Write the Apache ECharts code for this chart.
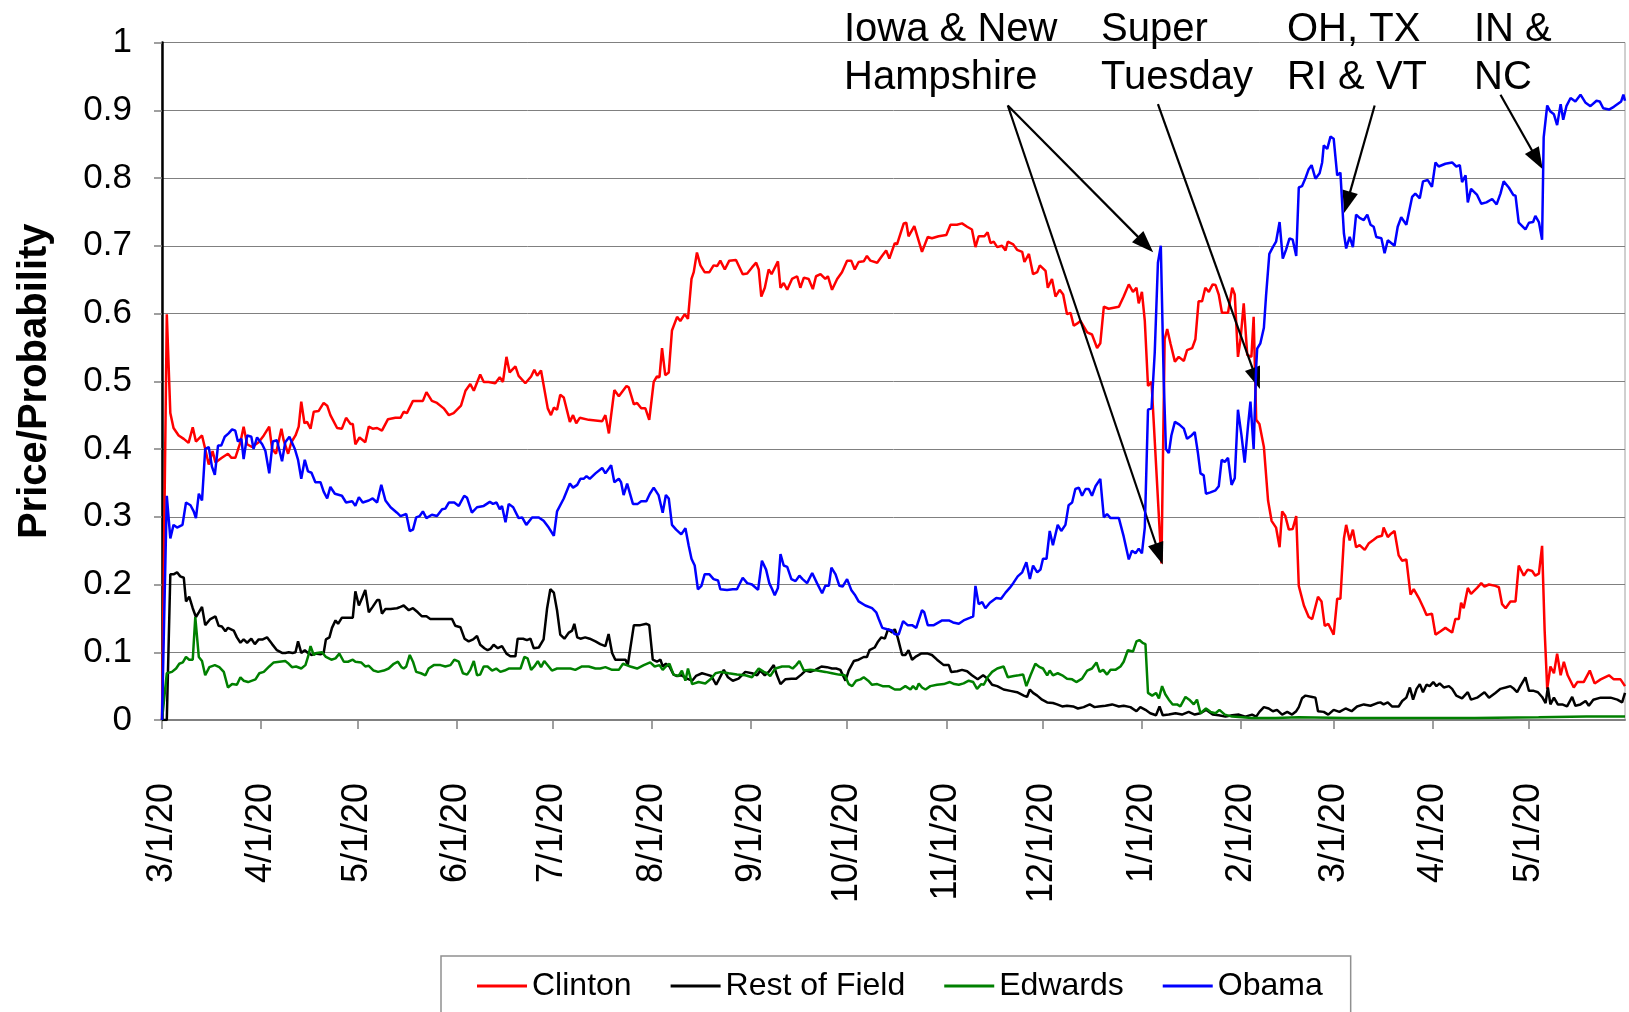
<!DOCTYPE html>
<html>
<head>
<meta charset="utf-8">
<script src="https://cdn.jsdelivr.net/npm/echarts@6/dist/echarts.min.js"></script>
<style>
html,body{margin:0;padding:0;background:#fff;}
#chart{width:1629px;height:1012px;}
</style>
</head>
<body>
<div id="chart"></div>
<script>
// ---- DATA (day offset from 3/1/2007, price) ----
const seriesNames = ['Clinton', 'Rest of Field', 'Edwards', 'Obama'];
const startDate = [2007, 2, 1];
const endDay = 457;
const xTickLabels = ['3/1/20','4/1/20','5/1/20','6/1/20','7/1/20','8/1/20','9/1/20','10/1/20','11/1/20','12/1/20','1/1/20','2/1/20','3/1/20','4/1/20','5/1/20'];

const clinton = [[0,0],[1.5,0.599],[2.6,0.453],[3.6,0.431],[5.2,0.42],[6.8,0.415],[8.3,0.409],[9.6,0.432],[10.6,0.411],[12.5,0.42],[13.5,0.40],[14.6,0.377],[15.8,0.397],[16.7,0.38],[18.7,0.387],[20.6,0.393],[21.7,0.387],[22.9,0.387],[24.5,0.41],[25.5,0.433],[26.6,0.407],[28.1,0.403],[30.2,0.41],[31.8,0.42],[33.5,0.433],[34.4,0.40],[35.6,0.393],[37.3,0.43],[38,0.413],[39.4,0.393],[40.4,0.41],[41.7,0.42],[42.7,0.433],[43.5,0.47],[44.5,0.438],[45.3,0.44],[46.4,0.43],[47.4,0.455],[48.9,0.456],[50.5,0.468],[51.6,0.464],[52.6,0.45],[54.7,0.431],[56.2,0.43],[57.5,0.446],[58.9,0.437],[59.6,0.437],[60.4,0.407],[61.7,0.417],[63.5,0.41],[64.6,0.433],[65.8,0.43],[67.2,0.431],[68.7,0.427],[70.6,0.444],[72.9,0.446],[74.5,0.446],[75.5,0.455],[76.5,0.453],[78.4,0.471],[81.5,0.471],[82.6,0.484],[84.3,0.471],[85.9,0.468],[88,0.46],[89.6,0.45],[91.1,0.453],[93.4,0.464],[94.8,0.486],[96.3,0.496],[97.4,0.486],[99.4,0.51],[100.5,0.499],[102,0.499],[104.1,0.497],[105.5,0.506],[106.5,0.499],[107.6,0.536],[108.6,0.513],[110.4,0.522],[111.4,0.508],[113.5,0.497],[115.3,0.507],[116.3,0.517],[117.2,0.508],[118.4,0.516],[120.5,0.46],[121.5,0.45],[122.4,0.461],[123.4,0.458],[124.4,0.48],[125.5,0.476],[127.4,0.44],[128.4,0.45],[129.4,0.438],[130.5,0.446],[133.3,0.443],[137.5,0.441],[138.5,0.45],[139.6,0.423],[140.3,0.45],[141.3,0.487],[142.7,0.478],[145.1,0.493],[145.8,0.491],[147.4,0.466],[148.4,0.468],[149.7,0.46],[151,0.46],[152.2,0.443],[153.6,0.499],[154.6,0.507],[155.4,0.506],[156.2,0.549],[157.2,0.509],[158.3,0.513],[159.3,0.575],[160.9,0.595],[161.9,0.589],[163.3,0.599],[164.3,0.592],[165.4,0.651],[166.1,0.661],[167.1,0.69],[168.2,0.671],[169.5,0.661],[171,0.661],[172.3,0.671],[173.4,0.67],[174.4,0.678],[175.8,0.665],[177.2,0.678],[179.3,0.679],[181.4,0.658],[182.8,0.659],[184.3,0.668],[185.6,0.675],[186.4,0.665],[187.2,0.625],[188.3,0.638],[189.5,0.665],[190.4,0.658],[192.4,0.677],[193.2,0.638],[194.2,0.645],[195.3,0.635],[196.8,0.651],[198.4,0.655],[199.4,0.638],[200.5,0.653],[202,0.651],[203.3,0.636],[204.3,0.655],[205.7,0.658],[207.2,0.651],[208,0.655],[209.3,0.635],[210.9,0.651],[212.4,0.661],[214,0.678],[215.3,0.678],[216.4,0.665],[217.6,0.676],[219.2,0.677],[220.2,0.685],[221.3,0.678],[223.4,0.675],[224.9,0.685],[226.2,0.693],[227.2,0.681],[228.9,0.704],[229.6,0.702],[231.7,0.733],[232.5,0.734],[233.2,0.714],[235,0.729],[237.4,0.691],[239.2,0.713],[240.5,0.711],[242.6,0.714],[245,0.716],[246.3,0.731],[248.3,0.731],[249.9,0.733],[251.5,0.728],[253,0.724],[254.1,0.698],[255.1,0.714],[256.9,0.714],[257.9,0.72],[258.8,0.704],[259.8,0.706],[260.9,0.698],[262.4,0.7],[263.5,0.693],[264.2,0.706],[265.9,0.702],[267.1,0.694],[268.7,0.691],[269.4,0.676],[270.8,0.688],[272.1,0.658],[273.4,0.661],[274.2,0.671],[276,0.663],[276.7,0.638],[278,0.651],[279.1,0.625],[280.4,0.635],[281.5,0.628],[282.7,0.599],[283.8,0.601],[284.8,0.582],[285.8,0.585],[286.9,0.589],[289,0.572],[290.5,0.569],[292.1,0.549],[293.1,0.556],[294.2,0.61],[295.7,0.607],[298.9,0.61],[300.4,0.625],[302,0.643],[303.3,0.632],[304.4,0.638],[305.1,0.615],[306.1,0.632],[307,0.589],[308,0.493],[309.1,0.499],[312.2,0.231],[313.2,0.562],[314,0.577],[315,0.556],[316.4,0.529],[317.6,0.536],[319.2,0.53],[320.2,0.546],[321.8,0.549],[322.8,0.562],[323.8,0.618],[324.9,0.618],[325.9,0.638],[327,0.632],[328.2,0.643],[329.1,0.642],[330.1,0.628],[331.1,0.601],[333,0.601],[334.3,0.638],[335.1,0.628],[336.1,0.536],[336.9,0.562],[337.9,0.615],[339,0.539],[340.3,0.536],[341,0.595],[341.8,0.443],[342.8,0.437],[344.2,0.403],[345.5,0.324],[346.6,0.294],[348,0.284],[349.1,0.255],[349.9,0.308],[350.9,0.301],[352,0.281],[353.2,0.282],[354.3,0.301],[355.1,0.198],[356.7,0.169],[358.2,0.152],[359.3,0.149],[361.1,0.182],[362.2,0.175],[363.2,0.139],[364.3,0.142],[366,0.126],[367.1,0.179],[368.1,0.179],[369.2,0.268],[369.9,0.288],[371,0.265],[372,0.281],[373,0.255],[374.1,0.258],[375.7,0.251],[377,0.261],[378.5,0.266],[379.6,0.27],[381.1,0.272],[381.6,0.284],[382.9,0.27],[383.9,0.275],[385,0.279],[386.3,0.243],[387.4,0.235],[388.7,0.237],[390,0.185],[391,0.193],[392.6,0.18],[394.1,0.165],[395,0.155],[396.7,0.157],[397.8,0.126],[399.4,0.131],[400.9,0.136],[403,0.129],[404,0.149],[405.1,0.149],[405.8,0.173],[406.6,0.165],[407.9,0.195],[408.9,0.186],[410.8,0.195],[412.1,0.202],[413.1,0.197],[414.5,0.2],[416.5,0.198],[417.6,0.196],[418.6,0.171],[419.7,0.165],[421.2,0.175],[422.8,0.175],[423.8,0.228],[425.4,0.213],[426.6,0.222],[428,0.22],[429,0.213],[430.1,0.216],[431.1,0.257],[431.9,0.132],[432.7,0.046],[433.7,0.079],[434.8,0.069],[435.8,0.098],[436.9,0.066],[437.9,0.086],[439.1,0.066],[441,0.048],[442.1,0.056],[444.1,0.056],[446,0.073],[447.5,0.054],[449.4,0.06],[452,0.066],[453.5,0.06],[455.6,0.06],[457,0.05]];

const restOfField = [[0,0],[1.5,0],[2.6,0.215],[3.6,0.215],[4.7,0.218],[5.7,0.212],[6.8,0.21],[7.5,0.175],[8.5,0.182],[9.6,0.165],[10.6,0.152],[11.5,0.159],[12.5,0.167],[13.5,0.14],[15.1,0.149],[16.7,0.153],[17.7,0.139],[18.7,0.138],[19.8,0.131],[20.6,0.136],[22.4,0.132],[23.4,0.122],[24.5,0.114],[25.5,0.119],[26.6,0.114],[27.9,0.12],[29,0.112],[30.2,0.119],[31.5,0.119],[32.8,0.122],[34.4,0.112],[35.9,0.103],[37.5,0.099],[38.5,0.099],[39.6,0.10],[40.8,0.099],[41.7,0.10],[42.5,0.116],[43.5,0.099],[44.6,0.103],[45.6,0.099],[46.7,0.096],[47.9,0.098],[49.5,0.097],[50.5,0.099],[51.2,0.119],[52.3,0.122],[53.1,0.136],[54.2,0.147],[55,0.142],[56.2,0.151],[58.3,0.151],[59.6,0.151],[60.4,0.19],[61.5,0.169],[62.5,0.18],[63.5,0.192],[64.6,0.159],[65.8,0.167],[67.2,0.177],[67.9,0.177],[68.7,0.157],[69.8,0.164],[71.4,0.164],[73.4,0.165],[74.5,0.167],[75.5,0.169],[77.1,0.162],[78.4,0.165],[79.9,0.159],[81.2,0.153],[82.6,0.153],[83.8,0.149],[88,0.149],[90.6,0.149],[91.6,0.139],[93.2,0.137],[94.5,0.12],[95.8,0.116],[97.2,0.119],[98.4,0.124],[99.4,0.111],[100.7,0.106],[101.7,0.103],[102.6,0.105],[103.6,0.111],[104.9,0.106],[106.2,0.109],[107.6,0.098],[108.8,0.094],[110.4,0.094],[111.1,0.12],[112.8,0.12],[114,0.118],[115.1,0.12],[116.1,0.106],[117.7,0.107],[119.2,0.119],[120.3,0.165],[121.3,0.193],[122.4,0.188],[123.4,0.162],[124.4,0.126],[125.7,0.12],[127.1,0.129],[128.1,0.132],[128.8,0.142],[129.7,0.122],[130.7,0.12],[132.2,0.122],[133.6,0.12],[135.4,0.116],[136.9,0.112],[138.5,0.109],[139.5,0.127],[140.6,0.099],[141.6,0.089],[143.7,0.089],[144.8,0.089],[145.5,0.081],[146.3,0.106],[147.4,0.14],[149.4,0.14],[151.3,0.142],[152.2,0.14],[153.3,0.089],[154.6,0.086],[155.7,0.089],[156.4,0.079],[157.4,0.083],[158.5,0.079],[159.8,0.067],[160.9,0.065],[162.2,0.066],[164,0.061],[165.6,0.058],[166.8,0.065],[168.7,0.069],[170.2,0.067],[171.6,0.065],[173.1,0.052],[174.1,0.061],[175.5,0.074],[176.8,0.063],[178.3,0.058],[180.1,0.061],[182.2,0.071],[184.3,0.069],[185.9,0.066],[186.9,0.073],[188.3,0.066],[189.5,0.071],[191.1,0.081],[192.1,0.066],[193.2,0.053],[194.7,0.06],[196.6,0.061],[198.1,0.061],[199.7,0.067],[201,0.073],[202.5,0.071],[204.1,0.074],[206,0.079],[207.7,0.078],[209.3,0.076],[210.6,0.076],[211.9,0.074],[213.5,0.058],[214.5,0.073],[216.1,0.087],[217.6,0.089],[219.2,0.093],[220.2,0.093],[221,0.103],[222.6,0.107],[223.7,0.116],[224.7,0.122],[225.8,0.12],[226.8,0.134],[228.1,0.129],[228.9,0.134],[229.8,0.122],[231.2,0.096],[232.2,0.096],[233.2,0.103],[234.3,0.089],[235.6,0.094],[237.1,0.098],[239.2,0.098],[240.5,0.096],[242.1,0.089],[244.2,0.081],[245.8,0.081],[246.5,0.071],[248.4,0.072],[249.9,0.074],[251.5,0.072],[253,0.066],[254.8,0.06],[256.5,0.066],[257.9,0.061],[259.3,0.052],[260.9,0.05],[262.9,0.045],[265,0.043],[267.1,0.041],[269.2,0.036],[270.2,0.034],[271.1,0.045],[272.1,0.04],[273.4,0.036],[274.9,0.03],[276.5,0.026],[278.3,0.025],[279.6,0.023],[281.2,0.02],[282.7,0.021],[284.6,0.02],[286.1,0.017],[287.9,0.019],[289.8,0.023],[291.3,0.019],[292.6,0.02],[294.7,0.021],[296.8,0.023],[298.9,0.02],[300.4,0.021],[302.5,0.019],[304.4,0.013],[305.6,0.019],[307.2,0.015],[308.7,0.01],[310.5,0.007],[311.6,0.02],[312.6,0.007],[314.5,0.008],[316.6,0.01],[318.6,0.008],[320.7,0.012],[322.6,0.008],[324.4,0.01],[326.1,0.015],[328.2,0.008],[330.1,0.007],[332.2,0.005],[334.3,0.007],[336.4,0.008],[338.4,0.005],[340.5,0.008],[341.8,0.005],[342.8,0.012],[344.2,0.019],[345.7,0.017],[347,0.013],[348.3,0.015],[349.9,0.008],[351.5,0.012],[353,0.008],[354.3,0.013],[355.1,0.019],[356.1,0.032],[357.2,0.036],[359.3,0.034],[360.3,0.033],[361.1,0.013],[362.9,0.012],[364.3,0.008],[366,0.015],[367.8,0.012],[369.7,0.017],[371.6,0.013],[373.3,0.02],[375.4,0.023],[377.5,0.021],[379.6,0.025],[380.6,0.026],[381.6,0.023],[382.9,0.026],[384.2,0.02],[386.3,0.02],[387.4,0.028],[388.7,0.033],[389.8,0.048],[390.8,0.03],[391.9,0.046],[392.9,0.053],[393.9,0.041],[395,0.052],[396,0.05],[397.1,0.056],[398.1,0.05],[399.1,0.054],[400.4,0.048],[402,0.05],[403,0.046],[404.3,0.036],[406.1,0.032],[407.9,0.041],[408.9,0.03],[410.8,0.033],[413.1,0.041],[414.5,0.033],[416.5,0.04],[418.1,0.046],[419.7,0.048],[421.2,0.05],[422.3,0.046],[423.3,0.041],[424.3,0.05],[425.9,0.063],[427,0.043],[428.5,0.043],[429.8,0.041],[431.1,0.034],[432.2,0.025],[432.9,0.048],[433.7,0.023],[434.8,0.033],[436,0.023],[437.4,0.023],[438.9,0.02],[440.5,0.034],[441.5,0.021],[443.1,0.023],[444.7,0.028],[445.7,0.021],[447.1,0.03],[449.4,0.033],[452.5,0.033],[454.6,0.03],[456.1,0.026],[457,0.04]];

const edwards = [[0,0],[1.5,0.069],[3.1,0.071],[4.4,0.076],[5.4,0.083],[6.5,0.085],[7.5,0.093],[8.5,0.089],[9.6,0.089],[10.4,0.152],[11.5,0.093],[12.5,0.087],[13.5,0.066],[14.8,0.078],[16.5,0.081],[17.9,0.078],[19.3,0.071],[20.6,0.048],[21.9,0.053],[23.4,0.052],[24.5,0.063],[25.5,0.058],[26.9,0.056],[29.2,0.06],[30.4,0.069],[31.8,0.071],[33.5,0.079],[34.9,0.085],[36.7,0.086],[38.5,0.087],[39.6,0.083],[40.6,0.078],[41.9,0.079],[43.5,0.076],[44.8,0.081],[45.6,0.093],[46.4,0.109],[47.4,0.096],[48.4,0.099],[50,0.10],[51.2,0.093],[52.9,0.089],[54.2,0.091],[55.4,0.098],[56.8,0.086],[58.1,0.086],[59.6,0.089],[60.4,0.086],[62.2,0.085],[63.5,0.079],[64.6,0.08],[66.1,0.073],[67.5,0.071],[69.3,0.073],[70.8,0.076],[72.4,0.083],[73.7,0.086],[74.8,0.078],[75.5,0.076],[76.3,0.079],[77.4,0.096],[78.4,0.086],[79.4,0.071],[80.9,0.069],[82.3,0.066],[83.3,0.076],[84.9,0.081],[87,0.081],[88.5,0.079],[90.1,0.081],[91.3,0.089],[92.7,0.086],[94,0.069],[95.3,0.067],[96.3,0.074],[97.4,0.087],[98.4,0.066],[99.4,0.067],[100.5,0.079],[101.7,0.079],[103.1,0.073],[104.4,0.076],[105.7,0.071],[107,0.073],[108.3,0.076],[110.4,0.076],[112,0.076],[113.2,0.093],[114.2,0.091],[115.3,0.074],[116.3,0.079],[117.4,0.087],[118.4,0.078],[119.4,0.087],[120.8,0.079],[121.8,0.073],[123.4,0.076],[125.5,0.076],[127.6,0.076],[129.1,0.074],[131.2,0.079],[133.3,0.079],[135.4,0.076],[136.9,0.076],[138.5,0.078],[140.6,0.074],[142.7,0.074],[144,0.083],[145.1,0.081],[146.3,0.079],[148.4,0.076],[150.5,0.081],[152.5,0.085],[153.9,0.079],[155.4,0.081],[156.4,0.074],[157.4,0.079],[158.5,0.083],[159.8,0.067],[161.4,0.065],[162.4,0.073],[163.5,0.058],[164.3,0.076],[165.6,0.053],[167.6,0.056],[169.7,0.054],[171.3,0.06],[172.9,0.069],[174.7,0.071],[177,0.069],[179.6,0.067],[182.2,0.066],[184.3,0.063],[186.4,0.076],[188,0.071],[189,0.069],[190,0.065],[191.6,0.076],[193.7,0.079],[195.8,0.079],[197,0.076],[198.1,0.081],[199.1,0.087],[200.5,0.073],[202.5,0.074],[204.6,0.073],[207.2,0.071],[209.3,0.069],[211.4,0.067],[213.3,0.066],[214.5,0.053],[215.6,0.05],[216.8,0.058],[218.2,0.06],[219.2,0.063],[220.6,0.058],[221.8,0.052],[223.4,0.053],[225.1,0.05],[227,0.05],[228.9,0.045],[230.6,0.045],[232.2,0.05],[233.8,0.045],[234.6,0.05],[235.6,0.045],[236.4,0.054],[237.4,0.048],[238.5,0.045],[240,0.05],[242.1,0.052],[244.2,0.053],[246.1,0.056],[247.5,0.053],[248.9,0.052],[250.4,0.054],[252,0.058],[253.4,0.056],[254.6,0.046],[255.9,0.053],[256.7,0.052],[257.9,0.063],[259.3,0.071],[260.9,0.076],[262.9,0.079],[264.2,0.063],[266.1,0.065],[267.6,0.066],[269,0.067],[270,0.05],[271.3,0.066],[272.8,0.083],[274.2,0.078],[275.2,0.076],[276.5,0.066],[277.3,0.073],[278.3,0.066],[279.8,0.069],[281.2,0.066],[282.7,0.061],[284.3,0.06],[285.6,0.056],[287.4,0.061],[289,0.073],[290.5,0.076],[291.9,0.085],[292.9,0.071],[294,0.074],[295.2,0.067],[296.3,0.074],[297.8,0.074],[299.4,0.079],[300.4,0.086],[301.7,0.103],[303.3,0.101],[304.4,0.116],[305.3,0.118],[306.3,0.114],[307.2,0.112],[308,0.04],[309.3,0.036],[310.5,0.04],[311.4,0.032],[312.4,0.05],[313.4,0.038],[314.5,0.03],[315.7,0.023],[317.1,0.023],[318.1,0.02],[319.7,0.034],[320.9,0.03],[322.3,0.023],[323.3,0.03],[324.4,0.01],[326.1,0.017],[327.5,0.012],[329.1,0.01],[330.3,0.015],[332,0.008],[334.3,0.005],[340.5,0.003],[347.8,0.003],[355.1,0.004],[370,0.003],[390,0.003],[410,0.003],[430,0.004],[445,0.005],[457,0.005]];

const obama = [[0,0],[1.5,0.331],[2.6,0.268],[3.6,0.288],[4.7,0.284],[6.4,0.288],[7.5,0.321],[8.9,0.317],[9.9,0.308],[10.6,0.298],[11.5,0.334],[12.5,0.324],[13.5,0.40],[14.6,0.403],[15.6,0.374],[16.5,0.362],[17.5,0.405],[18.5,0.405],[19.6,0.418],[20.8,0.423],[21.9,0.429],[22.9,0.427],[23.7,0.411],[24.8,0.415],[25.5,0.385],[26.6,0.42],[27.9,0.418],[28.6,0.40],[29.7,0.417],[31.3,0.407],[32.3,0.397],[33.5,0.364],[34.6,0.411],[35.9,0.413],[37.5,0.382],[38.5,0.41],[39.8,0.418],[41.5,0.40],[42.5,0.384],[43.5,0.356],[44.6,0.384],[45.6,0.367],[46.7,0.365],[47.9,0.351],[49.5,0.351],[50.5,0.337],[51.6,0.327],[52.6,0.344],[54,0.334],[56.2,0.331],[57.5,0.321],[59.4,0.323],[60.4,0.316],[61.5,0.329],[62.7,0.321],[64.6,0.324],[65.8,0.327],[67.2,0.321],[68.5,0.347],[69.8,0.324],[71.4,0.314],[73.4,0.306],[74.5,0.301],[76.3,0.304],[77.4,0.279],[78.4,0.281],[79.4,0.299],[80.5,0.301],[81.5,0.308],[82.6,0.298],[84.3,0.303],[85.9,0.301],[87.5,0.311],[88.5,0.312],[89.6,0.321],[91.3,0.321],[92.7,0.316],[94.4,0.331],[95.3,0.328],[96.8,0.306],[98.4,0.314],[100.5,0.316],[102.4,0.322],[103.4,0.319],[104.5,0.321],[105.5,0.311],[106.2,0.316],[107.3,0.292],[108.3,0.319],[109.7,0.314],[111.4,0.298],[112.5,0.299],[113.8,0.288],[115.6,0.299],[117.7,0.299],[119.2,0.294],[120.8,0.284],[122.4,0.272],[123.4,0.308],[125.5,0.327],[127.4,0.349],[128.4,0.343],[129.7,0.347],[130.7,0.356],[131.7,0.356],[132.6,0.36],[133.6,0.356],[135.4,0.364],[137.5,0.372],[138.5,0.364],[140.3,0.376],[141.3,0.351],[142.7,0.356],[143.4,0.351],[144.2,0.332],[145.3,0.349],[147.1,0.319],[148.6,0.319],[149.7,0.323],[151.3,0.323],[152.4,0.334],[153.6,0.343],[155.1,0.332],[156.4,0.306],[157.4,0.332],[158.3,0.327],[159.3,0.288],[160.6,0.281],[162.2,0.274],[163.5,0.283],[164.5,0.258],[165.4,0.238],[166.4,0.228],[167.4,0.193],[168.5,0.198],[169.5,0.215],[171,0.215],[172.3,0.208],[173.7,0.206],[174.4,0.193],[176.5,0.192],[178.3,0.193],[179.6,0.193],[181.4,0.21],[182.8,0.202],[184.3,0.2],[186.2,0.192],[187.4,0.235],[188.7,0.222],[189.7,0.202],[190.6,0.193],[191.4,0.184],[192.4,0.195],[193.2,0.245],[194.2,0.228],[195.3,0.226],[196.6,0.208],[197.9,0.205],[199.1,0.213],[200.1,0.208],[201.5,0.202],[203.1,0.217],[204.6,0.202],[206.2,0.187],[207.2,0.198],[208.3,0.198],[209.1,0.225],[210.4,0.215],[211.6,0.198],[212.6,0.197],[214,0.208],[215.3,0.192],[216.4,0.185],[217.6,0.175],[219.7,0.169],[221.8,0.165],[223.1,0.159],[223.9,0.149],[225,0.136],[226.5,0.134],[228.1,0.132],[228.8,0.127],[230.1,0.126],[231.5,0.146],[232.9,0.14],[234.3,0.14],[235.6,0.136],[237.4,0.162],[238.1,0.159],[239.2,0.14],[241.1,0.14],[243.7,0.147],[245.8,0.147],[247.1,0.144],[248.9,0.142],[250.4,0.147],[252.5,0.151],[253.4,0.153],[254.1,0.198],[255.1,0.171],[256.2,0.174],[257.2,0.165],[258.6,0.173],[260.6,0.18],[262.1,0.179],[263.5,0.188],[264.8,0.195],[265.9,0.202],[267.3,0.212],[268.7,0.218],[270,0.233],[271.1,0.208],[272.1,0.228],[273.4,0.218],[274.4,0.222],[275.2,0.238],[276.3,0.238],[277.3,0.279],[278.3,0.258],[279.8,0.288],[280.9,0.279],[282.2,0.288],[283.2,0.317],[284.3,0.321],[285.3,0.341],[286.4,0.343],[287.4,0.331],[288.5,0.341],[289.5,0.341],[290.5,0.331],[291.6,0.345],[293.1,0.356],[294.2,0.299],[295.2,0.304],[296.3,0.298],[298.9,0.298],[300.4,0.271],[302,0.237],[303,0.25],[304.1,0.246],[305.1,0.253],[306.1,0.246],[307,0.284],[308,0.458],[309.1,0.46],[310.1,0.542],[311.1,0.675],[312,0.70],[312.9,0.503],[313.6,0.40],[314.5,0.394],[315.3,0.42],[316.4,0.44],[317.8,0.436],[319.2,0.43],[320.2,0.415],[321.6,0.42],[322.6,0.425],[323.6,0.394],[324.4,0.364],[325.4,0.361],[326.1,0.334],[327.5,0.336],[329.1,0.339],[330.1,0.345],[331,0.384],[332,0.381],[333,0.387],[334.1,0.347],[335.1,0.357],[336.1,0.458],[337.2,0.42],[338.2,0.38],[339.3,0.437],[340,0.47],[341,0.40],[341.8,0.522],[342.1,0.548],[343.1,0.556],[344.2,0.579],[344.9,0.628],[345.9,0.688],[347,0.698],[348,0.706],[349.1,0.735],[350.1,0.681],[351.1,0.694],[352.2,0.711],[353.2,0.709],[354.3,0.685],[355.1,0.786],[356.1,0.788],[357.2,0.80],[358.2,0.813],[359.1,0.819],[360.3,0.799],[361.6,0.807],[362.4,0.823],[362.9,0.848],[364,0.843],[365,0.861],[366,0.858],[367.1,0.804],[368.1,0.808],[369.2,0.718],[369.9,0.696],[371,0.713],[372,0.698],[373,0.746],[374.1,0.741],[375.4,0.738],[376.5,0.746],[377.5,0.731],[378.5,0.728],[379.3,0.713],[380.9,0.711],[381.9,0.689],[382.9,0.708],[385,0.70],[386,0.728],[387.1,0.742],[388.7,0.731],[390.5,0.772],[391.5,0.777],[392.9,0.77],[393.9,0.795],[395.4,0.797],[396.7,0.787],[397.8,0.823],[398.8,0.817],[400.9,0.821],[403,0.823],[404.3,0.817],[405.4,0.819],[406.1,0.794],[407.2,0.804],[407.9,0.764],[408.9,0.784],[410.8,0.775],[412.1,0.762],[413.7,0.764],[415.5,0.769],[416.9,0.761],[418.1,0.777],[419.1,0.795],[420.7,0.786],[422.1,0.775],[422.8,0.774],[423.8,0.734],[425.9,0.724],[427,0.734],[428.3,0.735],[429,0.744],[430.1,0.735],[431.1,0.709],[431.6,0.86],[432.7,0.907],[433.7,0.898],[434.8,0.894],[435.8,0.878],[436.9,0.909],[437.7,0.886],[438.7,0.906],[440,0.918],[441.5,0.913],[443.1,0.923],[444.7,0.911],[446.2,0.906],[448.1,0.914],[449.1,0.913],[450.2,0.903],[452,0.901],[453.5,0.905],[455.8,0.913],[456.5,0.923],[457,0.914]];

// annotation arrows: [tail, head] in [day, price]
const arrowPairs = [
  [[264.2, 0.907], [307.2, 0.702]],
  [[264.2, 0.907], [311.5, 0.245]],
  [[311.1, 0.909], [341.8, 0.504]],
  [[378.8, 0.907], [370.2, 0.764]],
  [[418.1, 0.923], [429.6, 0.827]]
];
const noteTexts = ['Iowa & New\nHampshire', 'Super\nTuesday', 'OH, TX\nRI & VT', 'IN &\nNC'];

// ---- BUILD ----
const FONT = '"Liberation Sans", Arial, sans-serif';
const BASE = new Date(startDate[0], startDate[1], startDate[2]).getTime();
const DAY = 86400000;
const toT = d => BASE + d * DAY;
const toPts = arr => arr.map(p => [toT(p[0]), p[1]]);
const tickValues = xTickLabels.map((_, i) => new Date(startDate[0], startDate[1] + i, 1).getTime());
const labelFor = v => {
  let best = 0, bd = Infinity;
  tickValues.forEach((t, i) => { const d = Math.abs(t - v); if (d < bd) { bd = d; best = i; } });
  return bd < DAY ? xTickLabels[best] : '';
};

const colors = ['#FF0000', '#000000', '#008000', '#0000FF'];
const seriesData = [clinton, restOfField, edwards, obama];

const series = seriesNames.map((name, i) => ({
  name, type: 'line', data: toPts(seriesData[i]),
  showSymbol: false, symbol: 'none', smooth: false,
  lineStyle: { color: colors[i], width: 2.5 },
  itemStyle: { color: colors[i] },
  emphasis: { disabled: true }, z: 3 + i
}));
series[3].markLine = {
  silent: true, symbol: ['none', 'triangle'], symbolSize: [16, 22],
  label: { show: false }, animation: false,
  lineStyle: { color: '#000', width: 2.2, type: 'solid' },
  itemStyle: { color: '#000' },
  emphasis: { disabled: true },
  data: arrowPairs.map(p => [{ coord: [toT(p[0][0]), p[0][1]] }, { coord: [toT(p[1][0]), p[1][1]] }])
};

const notePos = [[844, 6], [1101, 6], [1287, 6], [1474, 6]];

const chart = echarts.init(document.getElementById('chart'), null, { renderer: 'canvas' });
chart.setOption({
  animation: false,
  backgroundColor: '#fff',
  textStyle: { fontFamily: FONT },
  grid: { left: 162, right: 4, top: 42.5, bottom: 292, show: true, borderColor: '#a0a0a0', borderWidth: 1, backgroundColor: 'transparent' },
  legend: {
    data: seriesNames, left: 441, top: 956, orient: 'horizontal',
    padding: [14, 28, 16, 36], itemGap: 39, itemWidth: 50, itemHeight: 3,
    icon: 'rect', borderColor: '#909090', borderWidth: 1.5,
    textStyle: { fontSize: 32, color: '#000', fontFamily: FONT }
  },
  xAxis: {
    type: 'value', min: toT(0), max: toT(endDay), scale: true,
    axisLine: { show: true, onZero: false, lineStyle: { color: '#808080', width: 2 } },
    axisTick: { show: true, customValues: tickValues, length: 9, lineStyle: { color: '#808080', width: 1.5 } },
    axisLabel: {
      customValues: tickValues, rotate: 90, margin: 63, fontSize: 36, color: '#000', fontFamily: FONT,
      formatter: v => labelFor(v)
    },
    splitLine: { show: false }
  },
  yAxis: {
    type: 'value', min: 0, max: 1, interval: 0.1,
    name: 'Price/Probability', nameLocation: 'middle', nameRotate: 90, nameGap: 107,
    nameTextStyle: { fontSize: 40, fontWeight: 'bold', color: '#000', fontFamily: FONT },
    axisLine: { show: true, lineStyle: { color: '#000', width: 2.5 } },
    axisTick: { show: true, length: 8, lineStyle: { color: '#808080', width: 1.5 } },
    axisLabel: { fontSize: 35, color: '#000', margin: 30, fontFamily: FONT },
    splitLine: { show: true, lineStyle: { color: '#808080', width: 1 } }
  },
  graphic: noteTexts.map((t, i) => ({
    type: 'text', left: notePos[i][0], top: notePos[i][1], z: 100,
    style: { text: t, font: '40px ' + FONT, fill: '#000', lineHeight: 48 }
  })),
  series
});
</script>
</body>
</html>
